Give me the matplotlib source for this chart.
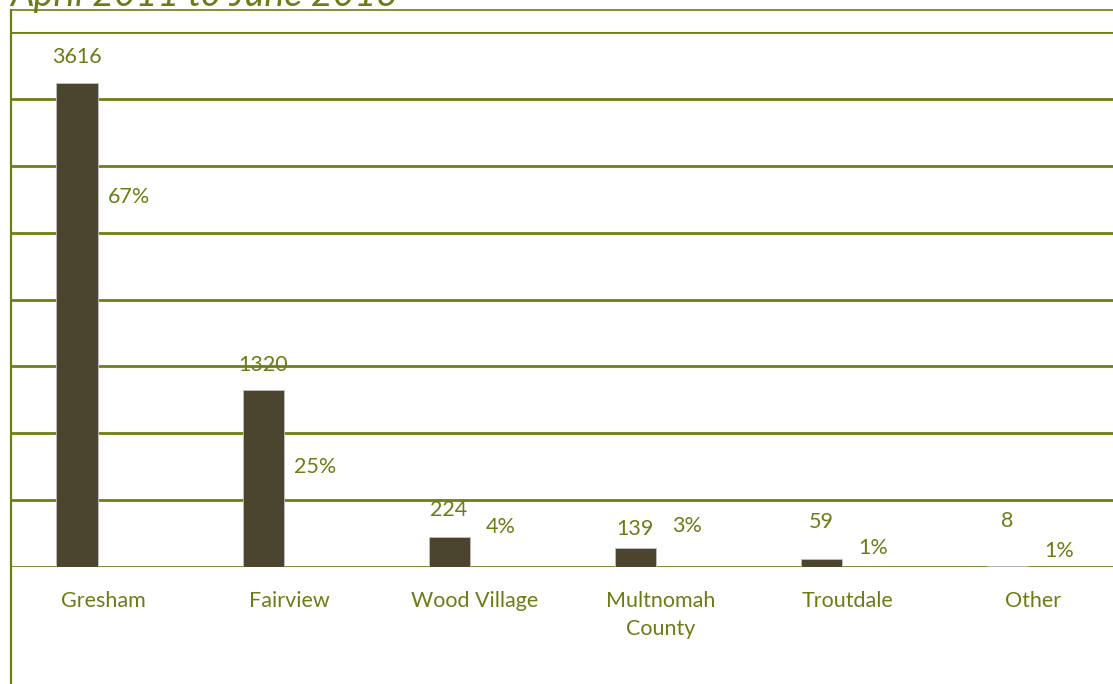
import matplotlib
matplotlib.use("Agg")
import matplotlib.pyplot as plt
from matplotlib.lines import Line2D
import numpy as np

categories = ["Gresham", "Fairview", "Wood Village", "Multnomah\nCounty", "Troutdale", "Other"]
counts = [3616, 1320, 224, 139, 59, 8]
percents = ["67%", "25%", "4%", "3%", "1%", "1%"]
# vertical anchor (in count units) of the manually placed percentage labels
pct_label_y = [2766, 748, 299, 307, 142, 116]
# distance (in pixels) of each manually placed count label centre above its bar
count_label_gap = [26, 25, 27, 19, 37, 45]
title = "April 2011 to June 2013"

TEXT = "#6B7D15"
GRID = "#6E8012"
BAR = "#4B4530"
FONT = "Lato"
FS = 15.5

W, H = 1113, 684
fig = plt.figure(figsize=(W / 100, H / 100), dpi=100)
ax = fig.add_axes([11 / W, 1 - 567 / H, 1 - 11 / W, (567 - 32) / H])

x = np.arange(len(categories))
off = 26 / 186
bw = 41 / 186
bars = ax.bar(x - off, counts, width=bw, color=BAR, edgecolor="#BFBFBF", linewidth=0.6, zorder=3)
for xi, c, g in zip(x, counts, count_label_gap):
    ax.annotate(str(c), (xi - off, c), xytext=(0, g * 0.72), textcoords="offset points",
                ha="center", va="center", color=TEXT, fontsize=FS, family=FONT)
for xi, p, yy in zip(x, percents, pct_label_y):
    ax.text(xi + off, yy, p, ha="center", va="center", color=TEXT, fontsize=FS, family=FONT)

ax.set_ylim(0, 4000)
ax.set_xlim(-92 / 186, (1113 - 103) / 186)
ax.set_yticks(np.arange(0, 4001, 500))
ax.yaxis.grid(True, color=GRID, linewidth=2, zorder=0)
ax.set_yticklabels([])
ax.tick_params(axis="y", length=0)
ax.set_xticks(x)
ax.set_xticklabels(categories, color=TEXT, fontsize=FS, family=FONT, linespacing=1.55)
ax.tick_params(axis="x", length=0, pad=17)
for s in ax.spines.values():
    s.set_visible(False)

# outer frame lines
fig.add_artist(Line2D([11 / W, 11 / W], [0, 1 - 10 / H], color=GRID, linewidth=1.6, transform=fig.transFigure))
fig.add_artist(Line2D([11 / W, 1], [1 - 10 / H, 1 - 10 / H], color=GRID, linewidth=1.2, transform=fig.transFigure))

fig.text(10 / W, 1 - 6 / H, title, ha="left", va="baseline", color=TEXT, fontsize=27,
         style="italic", family=FONT)

fig.savefig("out.png", dpi=100)
